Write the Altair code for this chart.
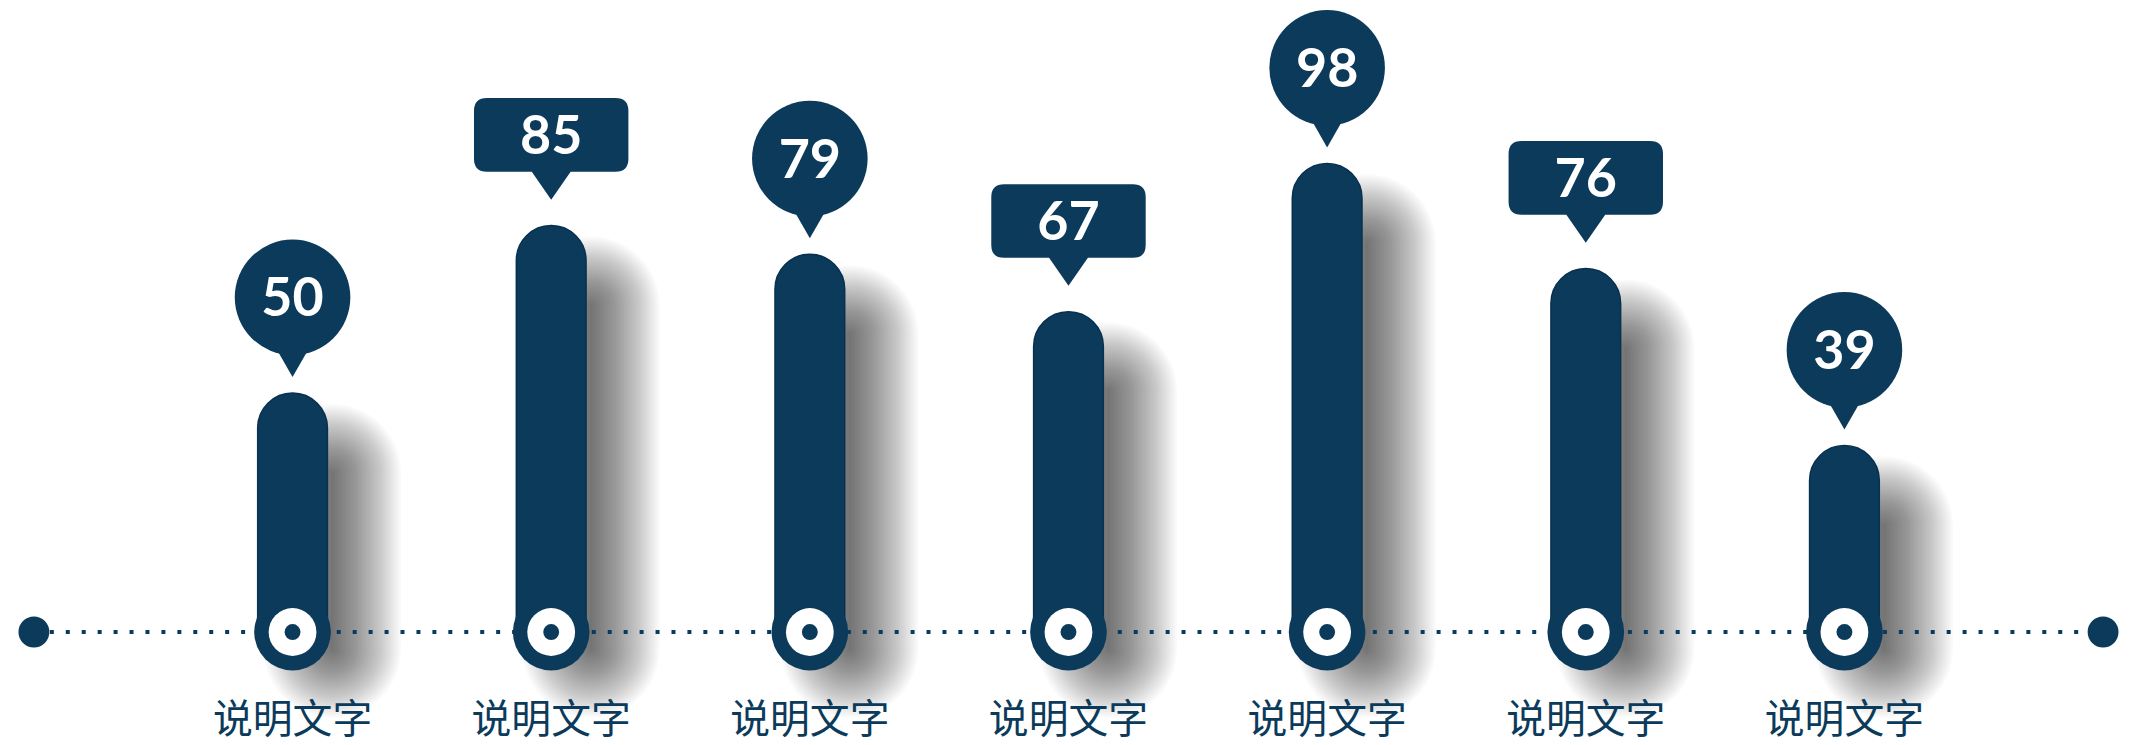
import math
import altair as alt
import pandas as pd

# ---------------- data ----------------
labels = ["说明文字", "说明文字", "说明文字", "说明文字", "说明文字", "说明文字", "说明文字"]
values = [50, 85, 79, 67, 98, 76, 39]
bubble_kind = ["circle", "rect", "circle", "rect", "circle", "rect", "circle"]

NAVY = "#0b3a5b"
EDGE = "#083150"
W, H = 2087, 480
N = len(values)

df = pd.DataFrame({
    "i": list(range(N)),
    "label": labels,
    "value": values,
    "kind": bubble_kind,
    "text": [str(v) for v in values],
})
ends_df = pd.DataFrame({"lo": [-1], "hi": [N]})
end_pts = pd.DataFrame({"pos": [-1, N]})

xs = alt.Scale(domain=[-1, N], nice=False, zero=False)
ys = alt.Scale(domain=[0, 100], nice=False)
X = alt.X("i:Q", scale=xs, axis=None)
Y = alt.Y("value:Q", scale=ys, axis=None)
Y0 = alt.Y("zero:Q", scale=ys, axis=None)


def dot_size(r):
    # Vega symbol size: circle radius = sqrt(size) / 2
    return (2 * r) ** 2


base = alt.Chart(df).transform_calculate(zero="0")
layers = []

# ---------------- soft shadows (stacked translucent capsules) ----------------
spreads = list(range(-34, 35, 2))
for s in spreads:
    w = 70 + 2 * s
    layers.append(
        base.mark_bar(
            color="black", opacity=0.021, width=w, cornerRadius=w / 2,
            xOffset=40, yOffset=45 - s, y2Offset=52 + s,
        ).encode(x=X, y=Y, y2="zero:Q")
    )

# ---------------- dotted baseline + end dots ----------------
layers.append(
    alt.Chart(ends_df).transform_calculate(zero="0").mark_rule(
        color=NAVY, strokeWidth=4, strokeDash=[4, 12], strokeCap="butt"
    ).encode(x=alt.X("lo:Q", scale=xs, axis=None), x2="hi:Q", y=Y0)
)
layers.append(
    alt.Chart(end_pts).transform_calculate(zero="0").mark_circle(
        color=NAVY, opacity=1, size=dot_size(15.5)
    ).encode(x=alt.X("pos:Q", scale=xs, axis=None), y=Y0)
)

# ---------------- bars ----------------
layers.append(
    base.mark_bar(
        color=NAVY, width=70, cornerRadiusTopLeft=35, cornerRadiusTopRight=35,
        stroke=EDGE, strokeWidth=1.5,
    ).encode(x=X, y=Y, y2="zero:Q")
)

# ---------------- bottom knobs ----------------
for r, col in [(38.5, NAVY), (24, "white"), (8, NAVY)]:
    layers.append(
        base.mark_circle(color=col, opacity=1, size=dot_size(r)).encode(x=X, y=Y0)
    )

# ---------------- bubbles ----------------
circ = base.transform_filter(alt.datum.kind == "circle")
rect = base.transform_filter(alt.datum.kind == "rect")

GAP_C = 16
GAP_R = 26
TRI = "M0,0 L-0.2,-0.35 L0.2,-0.35 Z"
RRECT = ("M0,0 L-0.195,-0.28 L-0.645,-0.28 Q-0.775,-0.28 -0.775,-0.41 L-0.775,-0.89 "
         "Q-0.775,-1.02 -0.645,-1.02 L0.645,-1.02 Q0.775,-1.02 0.775,-0.89 L0.775,-0.41 "
         "Q0.775,-0.28 0.645,-0.28 L0.195,-0.28 Z")

layers.append(
    circ.mark_circle(color=NAVY, opacity=1, size=dot_size(58), yOffset=-(GAP_C + 80)).encode(x=X, y=Y)
)
layers.append(
    circ.mark_point(shape=TRI, size=40000, filled=True, color=NAVY, opacity=1,
                    strokeWidth=0, yOffset=-GAP_C).encode(x=X, y=Y)
)
layers.append(
    rect.mark_point(shape=RRECT, size=40000, filled=True, color=NAVY, opacity=1,
                    strokeWidth=0, yOffset=-GAP_R).encode(x=X, y=Y)
)

num_style = dict(color="white", font="Lato", fontWeight="bold", fontSize=54,
                 align="center", baseline="middle")
layers.append(
    circ.mark_text(yOffset=-(GAP_C + 80) + 3, **num_style).encode(x=X, y=Y, text="text:N")
)
layers.append(
    rect.mark_text(yOffset=-(GAP_R + 65) + 3, **num_style).encode(x=X, y=Y, text="text:N")
)

# ---------------- category labels ----------------
layers.append(
    base.mark_text(color=NAVY, font="Noto Sans CJK SC", fontSize=40, align="center",
                   baseline="middle", yOffset=89).encode(x=X, y=Y0, text="label:N")
)

chart = alt.layer(*layers).properties(
    width=W, height=H,
    autosize=alt.AutoSizeParams(type="none"),
    padding={"left": 21, "top": 145, "right": 15, "bottom": 112},
    background="white",
).configure_view(strokeWidth=0)

chart.save("out.html", embed_options={"renderer": "svg", "actions": False})
